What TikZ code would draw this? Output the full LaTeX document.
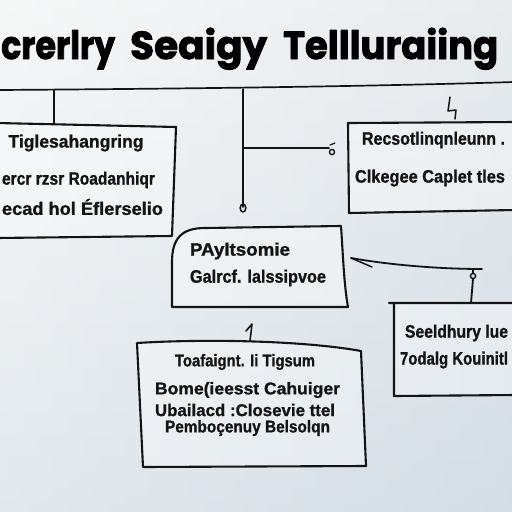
\documentclass[tikz,border=0pt]{standalone}
\usepackage{fontspec}
\usepackage{graphicx}
\setmainfont{Liberation Sans}[BoldFeatures={FakeBold=1.1}]
\newfontfamily\titlefont{Poppins}[BoldFeatures={FakeBold=2.2}]
\newcommand\fitw[2]{\resizebox{#1}{\height}{#2}}
\definecolor{bgtop}{RGB}{243,244,244}
\definecolor{bgbot}{RGB}{212,221,229}
\definecolor{ink}{RGB}{20,20,20}
\tikzset{
  box/.style={draw=ink, line width=2.1pt, fill=white, fill opacity=0.35, draw opacity=1},
  wire/.style={draw=ink, line width=1.8pt},
  txt/.style={inner sep=0pt, text=ink, font=\bfseries\fontsize{18}{18}\selectfont},
  ttl/.style={inner sep=0pt, text=black, anchor=base west, font=\titlefont\bfseries\fontsize{39}{39}\selectfont},
}
\begin{document}
\begin{tikzpicture}[x=1pt,y=-1pt,line join=round,line cap=round]
\useasboundingbox (0,0) rectangle (512,512);
\shade[top color=bgtop, bottom color=bgbot] (0,0) rectangle (512,512);
\shade[left color=white, right color=bgbot, opacity=0.35] (0,0) rectangle (512,512);

% title
\node[ttl] (t1) at (1,59) {\fitw{114pt}{crerlry}};
\node[ttl] (t2) at (130,59) {\fitw{137pt}{Seaigy}};
\node[ttl] (t3) at (283,59) {\fitw{215pt}{Tellluraiing}};

% rule under title
\draw[wire, line width=1.7pt] (-2,90) .. controls (150,89) and (350,87) .. (514,82);
\coordinate (rA) at (54,90);
\coordinate (rB) at (243,89);

% boxes
\draw[box] (-3,123) -- (176,127) -- (172,236) -- (-3,238);
\draw[box] (515,122) -- (348,123) -- (349,213) -- (515,210);
\draw[box] (172,307) -- (172,262) .. controls (172,238) and (182,228) .. (205,228) -- (341,226) .. controls (343,255) and (344,285) .. (348,307) -- cycle;
\draw[box] (515,303) -- (389,303) -- (394,303) -- (394,396) -- (515,395);
\draw[box] (137,343) .. controls (200,339) and (300,340) .. (361,351) -- (366,466) -- (143,467) -- cycle;

% connection points
\coordinate (lbTop) at (54,124);
\coordinate (cLow) at (243,207);
\coordinate (cJ) at (243,148);
\coordinate (cEnd) at (329,148);
\coordinate (zA) at (450,97);
\coordinate (zB) at (455,119);
\coordinate (cbR) at (351,258);
\coordinate (kn) at (473,269);
\coordinate (knE) at (482,269);
\coordinate (rbTop) at (471,303);
\coordinate (oneA) at (246,331);
\coordinate (dbTop) at (250,341);

% connectors
\draw[wire] (rA) -- (lbTop);
\draw[wire] (rB) -- (cLow);
\draw[wire, line width=1.5pt] (cLow) ++(0,1) circle[x radius=2.8pt, y radius=4pt];
\draw[wire] (cJ) -- (cEnd);
\draw[wire, line width=1.4pt] (cEnd) ++(3,4) circle[radius=2.6pt];
\draw[wire, line width=1.2pt] (cEnd) ++(1,-3) -- ++(5,-2);
\draw[wire, line width=1.5pt] (zA) -- (448,111) -- (456,110) -- (zB);
\draw[wire] (cbR) .. controls (390,265) and (440,269) .. (knE);
\draw[wire, line width=1.5pt] (cbR) -- ++(21,9);
\draw[wire] (kn) -- ++(0,4);
\draw[wire, line width=1.4pt] (kn) ++(0,7) circle[radius=2.6pt];
\draw[wire] (kn) ++(0,10) -- (rbTop);
\draw[wire, line width=1.6pt] (oneA) -- (252,324) -- (dbTop);

% texts
\node[txt] (l1) at (76,143) {\fitw{135pt}{Tiglesahangring}};
\node[txt] (l2) at (78.5,180) {\fitw{153pt}{ercr rzsr Roadanhiqr}};
\node[txt] (l3) at (82.5,207) {\fitw{161pt}{ecad hol Éflerselio}};

\node[txt] (r1) at (433.5,140) {\fitw{143pt}{Recsotlinqnleunn .}};
\node[txt] (r2) at (430,178) {\fitw{150pt}{Clkegee Caplet tles}};

\node[txt] (c1) at (240,251) {\fitw{100pt}{PAyltsomie}};
\node[txt] (c2) at (258,278) {\fitw{136pt}{Galrcf. lalssipvoe}};

\node[txt] (b1) at (456.5,333) {\fitw{103pt}{Seeldhury lue}};
\node[txt] (b2) at (454,360) {\fitw{108pt}{7odalg Kouinitl}};

\node[txt, font=\bfseries\fontsize{17}{17}\selectfont] (d1) at (245,362) {\fitw{140pt}{Toafaignt. Ii Tigsum}};
\node[txt, font=\bfseries\fontsize{17}{17}\selectfont] (d2) at (247.5,390) {\fitw{185pt}{Bome(ieesst Cahuiger}};
\node[txt, font=\bfseries\fontsize{17}{17}\selectfont] (d3) at (245,410) {\fitw{180pt}{Ubailacd :Closevie ttel}};
\node[txt, font=\bfseries\fontsize{17}{17}\selectfont] (d4) at (247.5,428) {\fitw{165pt}{Pemboçenuy Belsolqn}};
\end{tikzpicture}
\end{document}
